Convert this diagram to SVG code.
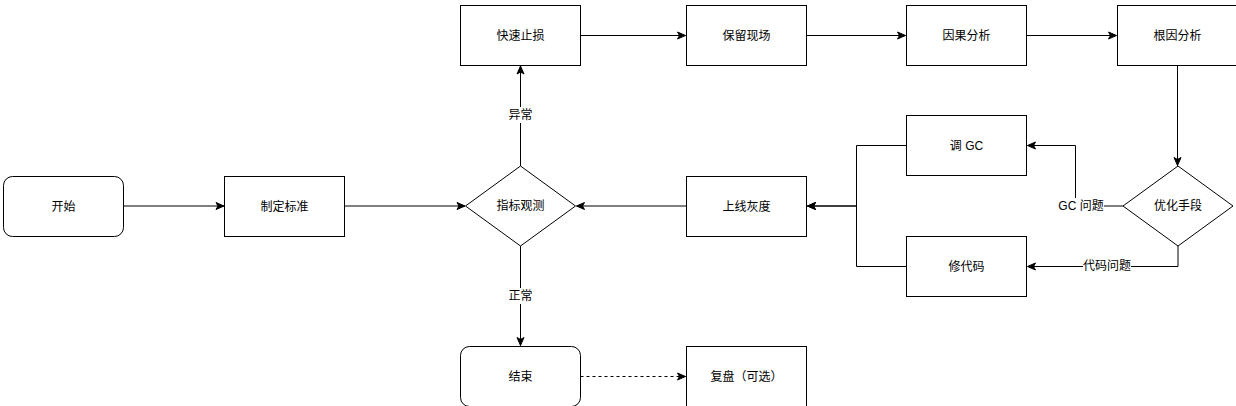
<svg xmlns="http://www.w3.org/2000/svg" width="1236" height="406" viewBox="0 0 1236 406">
<style>
.box{fill:#fff;stroke:#000;stroke-width:1}
.t{font-family:"Liberation Sans","Noto Sans CJK SC",sans-serif;font-size:12px;fill:#000;text-anchor:middle;dominant-baseline:central}
.lt{font-family:"Liberation Sans","Noto Sans CJK SC",sans-serif;font-size:12px;fill:#000;text-anchor:middle;dominant-baseline:central}
.e{fill:none;stroke:#000;stroke-width:1}
.lbg{fill:#fff}
</style>
<defs>
<marker id="arr" markerUnits="userSpaceOnUse" markerWidth="10" markerHeight="10" viewBox="0 0 10 10" refX="9" refY="5" orient="auto">
<path d="M1,1.5 L9,5 L1,8.5 L3,5 Z" fill="#000" stroke="#000" stroke-width="1"/>
</marker>
</defs>
<rect width="1236" height="406" fill="#fff"/>
<g id="connectors">
<path class="e" d="M124,206 H224" marker-end="url(#arr)"/>
<path class="e" d="M345,206 H465" marker-end="url(#arr)"/>
<path class="e" d="M520.5,166 V66" marker-end="url(#arr)"/>
<path class="e" d="M580.5,35.5 H685.5" marker-end="url(#arr)"/>
<path class="e" d="M806.5,35.5 H905.5" marker-end="url(#arr)"/>
<path class="e" d="M1026.5,35.5 H1116.5" marker-end="url(#arr)"/>
<path class="e" d="M1177.5,65.5 V165.5" marker-end="url(#arr)"/>
<path class="e" d="M1123,206 H1075.5 V145.5 H1027.5" marker-end="url(#arr)"/>
<path class="e" d="M1178,246 V266.5 H1027.5" marker-end="url(#arr)"/>
<path class="e" d="M906.5,145.5 H856.5 V206 H807.5" marker-end="url(#arr)"/>
<path class="e" d="M906.5,266.5 H856.5 V206 H807.5" marker-end="url(#arr)"/>
<path class="e" d="M686.5,206 H576.5" marker-end="url(#arr)"/>
<path class="e" d="M520.5,246 V345.5" marker-end="url(#arr)"/>
<path class="e" d="M580.5,376.5 H685.5" stroke-dasharray="3,3" marker-end="url(#arr)"/>
<rect class="lbg" x="506" y="107" width="29" height="16"/>
<text class="lt" x="520.5" y="115">异常</text>
<rect class="lbg" x="506" y="288" width="29" height="16"/>
<text class="lt" x="520.5" y="296">正常</text>
<rect class="lbg" x="1058" y="198" width="46" height="16"/>
<text class="lt" x="1081" y="206">GC 问题</text>
<rect class="lbg" x="1083" y="258" width="48" height="16"/>
<text class="lt" x="1107" y="266">代码问题</text>
</g>
<g id="start"><rect class="box" x="3.5" y="176.5" width="120" height="60" rx="9"/><text class="t" x="63.5" y="206.5">开始</text></g>
<g id="standard"><rect class="box" x="224.5" y="176.5" width="120" height="60"/><text class="t" x="284.5" y="206.5">制定标准</text></g>
<g id="observe"><path class="box" d="M520.5,166 L575.5,206 L520.5,246 L465.5,206 Z"/><text class="t" x="520.5" y="206">指标观测</text></g>
<g id="stoploss"><rect class="box" x="460.5" y="5.5" width="120" height="60"/><text class="t" x="520.5" y="35.5">快速止损</text></g>
<g id="keepscene"><rect class="box" x="686.5" y="5.5" width="120" height="60"/><text class="t" x="746.5" y="35.5">保留现场</text></g>
<g id="causal"><rect class="box" x="906.5" y="5.5" width="120" height="60"/><text class="t" x="966.5" y="35.5">因果分析</text></g>
<g id="rootcause"><rect class="box" x="1117.5" y="5.5" width="120" height="60"/><text class="t" x="1177.5" y="35.5">根因分析</text></g>
<g id="optimize"><path class="box" d="M1178,166 L1233,206 L1178,246 L1123,206 Z"/><text class="t" x="1178" y="206">优化手段</text></g>
<g id="tunegc"><rect class="box" x="906.5" y="115.5" width="120" height="60"/><text class="t" x="966.5" y="145.5">调 GC</text></g>
<g id="fixcode"><rect class="box" x="906.5" y="236.5" width="120" height="60"/><text class="t" x="966.5" y="266.5">修代码</text></g>
<g id="gray"><rect class="box" x="686.5" y="176.5" width="120" height="60"/><text class="t" x="746.5" y="206.5">上线灰度</text></g>
<g id="end"><rect class="box" x="460.5" y="346.5" width="120" height="60" rx="9"/><text class="t" x="520.5" y="376.5">结束</text></g>
<g id="review"><rect class="box" x="686.5" y="346.5" width="120" height="60"/><text class="t" x="746.5" y="376.5">复盘（可选）</text></g>
</svg>
